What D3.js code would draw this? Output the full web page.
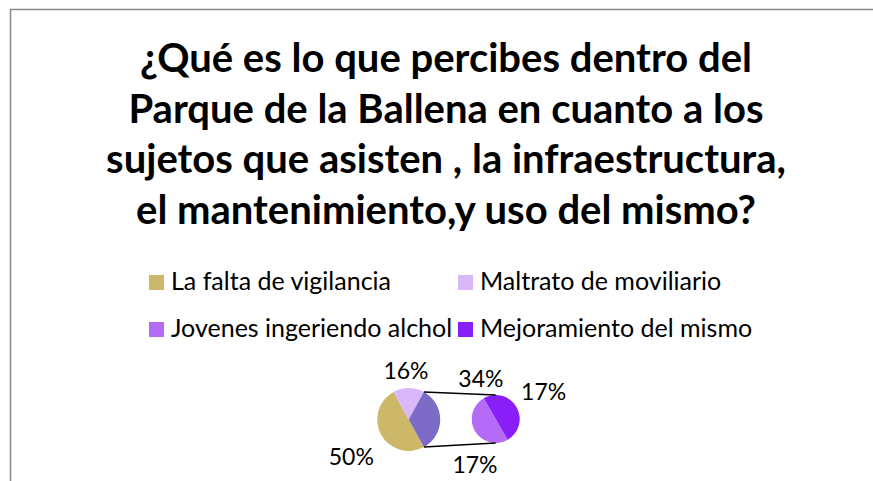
<!DOCTYPE html>
<meta charset="utf-8">
<script src="https://d3js.org/d3.v7.min.js"></script>
<style>
  body { margin: 0; background: #fff; }
  text { font-family: Lato, "Open Sans", sans-serif; fill: #000; }
</style>
<div id="chart"></div>
<script>

// data
var titleLines = [
  "¿Qué es lo que percibes dentro del",
  "Parque de la Ballena en cuanto a los",
  "sujetos que asisten , la infraestructura,",
  "el mantenimiento,y uso del mismo?"
];
var categories = ["La falta de vigilancia", "Maltrato de moviliario", "Jovenes ingeriendo alchol", "Mejoramiento del mismo"];
var values = [50, 16, 17, 17];
var colors = ["#CDB86A", "#D9B7F8", "#B46CF6", "#8A1EF8"];
var otherColor = "#7C6CC7";
var splitAt = 2; // the last two categories go to the second pie

var width = 873, height = 481;

var svg = d3.select("#chart").append("svg")
    .attr("width", width)
    .attr("height", height);

// chart area frame (cut off at right and bottom)
svg.append("rect")
    .attr("x", 10.5).attr("y", 9.5)
    .attr("width", width + 20).attr("height", height + 20)
    .attr("fill", "none")
    .attr("stroke", "#888")
    .attr("stroke-width", 1.5);

// title
svg.append("g").selectAll("text")
  .data(titleLines)
  .enter().append("text")
    .attr("x", 446)
    .attr("y", function(d, i) { return 72 + i * 50.6; })
    .attr("text-anchor", "middle")
    .style("font-size", "40px")
    .style("font-weight", "bold")
    .text(function(d) { return d; });

// legend, two columns
var legend = svg.append("g").selectAll("g")
  .data(categories)
  .enter().append("g")
    .attr("transform", function(d, i) {
      return "translate(" + (149 + (i % 2) * 309) + "," + (275 + Math.floor(i / 2) * 47) + ")";
    });
legend.append("rect")
    .attr("width", 15).attr("height", 15)
    .attr("fill", function(d, i) { return colors[i]; });
legend.append("text")
    .attr("x", 22).attr("y", 15)
    .style("font-size", "25px")
    .text(function(d) { return d; });

// build main pie: first categories + "other"
var mainData = [];
for (var i = 0; i < splitAt; i++) mainData.push({ label: categories[i], value: values[i], color: colors[i] });
var otherTotal = d3.sum(values.slice(splitAt));
mainData.push({ label: "other", value: otherTotal, color: otherColor });
var total = d3.sum(mainData, function(d) { return d.value; });

var secData = [];
for (var j = splitAt; j < values.length; j++) secData.push({ label: categories[j], value: values[j], color: colors[j] });

var deg = Math.PI / 180;
var mainR = 31.5, secR = 24;
var mainC = [408.7, 419.5], secC = [495.7, 419];

// the "other" slice is centred on 3 o'clock
var otherSpan = otherTotal / total * 2 * Math.PI;
var mainPie = d3.pie().sort(null).value(function(d) { return d.value; })
    .startAngle(Math.PI / 2 + otherSpan / 2)
    .endAngle(Math.PI / 2 + otherSpan / 2 + 2 * Math.PI);
var secPie = d3.pie().sort(null).value(function(d) { return d.value; })
    .startAngle(150 * deg).endAngle(510 * deg);

var mainArcs = mainPie(mainData);
var secArcs = secPie(secData);

var gMain = svg.append("g").attr("transform", "translate(" + mainC + ")");
gMain.selectAll("path")
  .data(mainArcs)
  .enter().append("path")
    .attr("d", d3.arc().innerRadius(0).outerRadius(mainR))
    .attr("fill", function(d) { return d.data.color; });

var gSec = svg.append("g").attr("transform", "translate(" + secC + ")");
gSec.selectAll("path")
  .data(secArcs)
  .enter().append("path")
    .attr("d", d3.arc().innerRadius(0).outerRadius(secR))
    .attr("fill", function(d) { return d.data.color; });

// connector lines from the "other" slice edges to the top / bottom of the second pie
var other = mainArcs[mainArcs.length - 1];
function pt(c, r, a) { return [c[0] + r * Math.sin(a), c[1] - r * Math.cos(a)]; }
var connectors = [
  [pt(mainC, mainR, other.startAngle), pt(secC, secR, 0)],
  [pt(mainC, mainR, other.endAngle), pt(secC, secR, Math.PI)]
];
svg.append("g").selectAll("line")
  .data(connectors)
  .enter().append("line")
    .attr("x1", function(d) { return d[0][0]; })
    .attr("y1", function(d) { return d[0][1]; })
    .attr("x2", function(d) { return d[1][0]; })
    .attr("y2", function(d) { return d[1][1]; })
    .attr("stroke", "#000")
    .attr("stroke-width", 1.5);

// percentage labels (placed like Excel's best fit: angle and distance from the pie centre)
var fmt = function(v) { return Math.round(v / total * 100) + "%"; };
var labelSpots = [
  { c: mainC, arc: mainArcs[0], ang: 237, dist: 68.4 },
  { c: mainC, arc: mainArcs[1], ang: -3.2, dist: 48.6 },
  { c: secC, arc: mainArcs[2], ang: -20, dist: 43.3 },
  { c: secC, arc: secArcs[0], ang: 204.5, dist: 50 },
  { c: secC, arc: secArcs[1], ang: 60, dist: 55.4 }
];
svg.append("g").selectAll("text")
  .data(labelSpots)
  .enter().append("text")
    .attr("x", function(d) { return pt(d.c, d.dist, d.ang * deg)[0]; })
    .attr("y", function(d) { return pt(d.c, d.dist, d.ang * deg)[1]; })
    .attr("dy", "0.36em")
    .attr("text-anchor", "middle")
    .style("font-size", "23px")
    .text(function(d) { return fmt(d.arc.data.value); });

</script>
